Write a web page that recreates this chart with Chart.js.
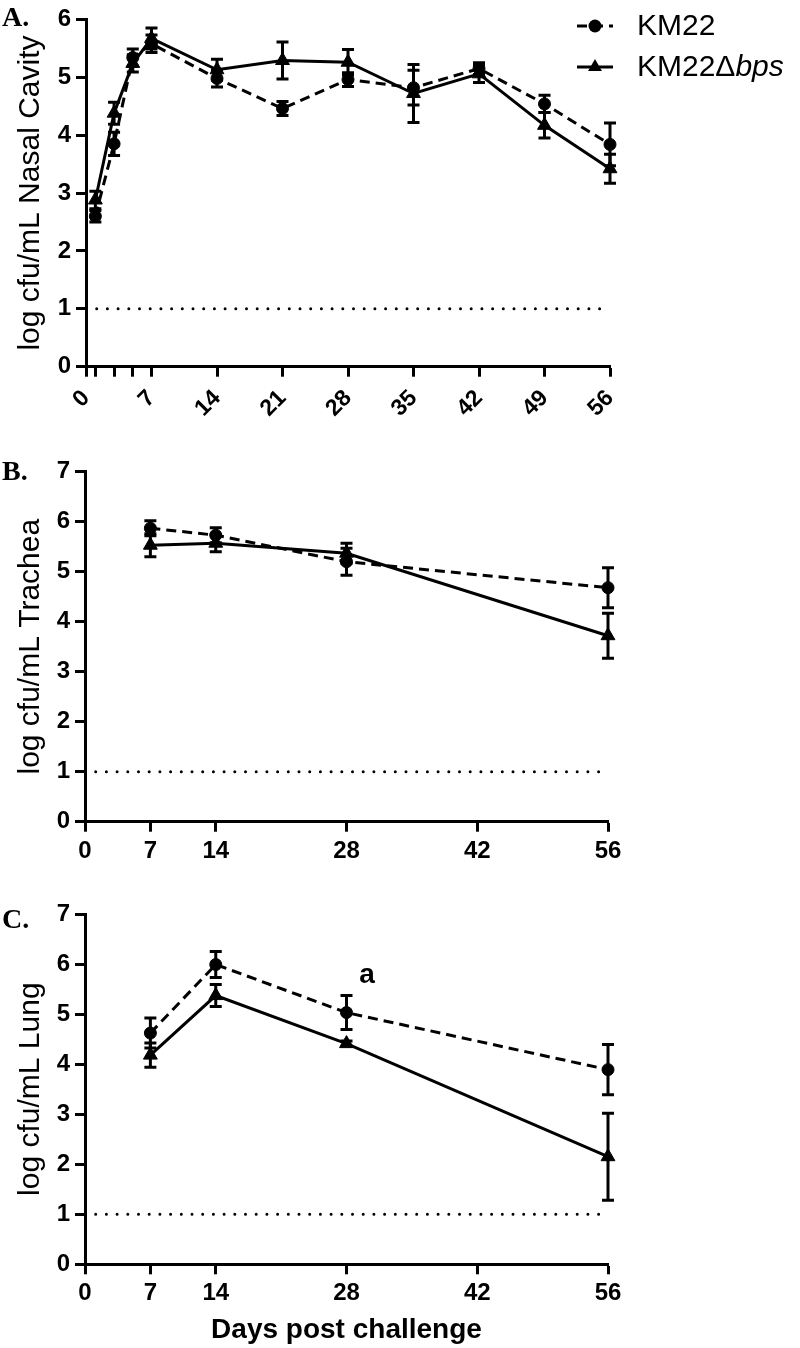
<!DOCTYPE html>
<html>
<head>
<meta charset="utf-8">
<script src="https://cdn.jsdelivr.net/npm/chart.js@4.4.0/dist/chart.umd.min.js"></script>
<style>
  html, body { margin: 0; padding: 0; background: #fff; }
  body { width: 800px; height: 1348px; position: relative; overflow: hidden; }
  canvas { position: absolute; left: 0; }
</style>
</head>
<body>
<canvas id="chartA" width="800" height="440" style="top:0px"></canvas>
<canvas id="chartB" width="800" height="440" style="top:440px"></canvas>
<canvas id="chartC" width="800" height="468" style="top:880px"></canvas>
<script>
// strains
const strainNames = ['KM22', 'KM22\u0394bps'];

// A. nasal cavity
const nasalDays = [1, 3, 5, 7, 14, 21, 28, 35, 42, 49, 56];
const nasalKM22 = [2.6, 3.85, 5.34, 5.58, 4.98, 4.46, 4.96, 4.82, 5.15, 4.54, 3.84];
const nasalKM22Err = [0.1, 0.2, 0.15, 0.15, 0.15, 0.12, 0.12, 0.3, 0.1, 0.15, 0.37];
const nasalBps = [2.88, 4.38, 5.24, 5.67, 5.13, 5.29, 5.26, 4.72, 5.06, 4.17, 3.42];
const nasalBpsErr = [0.15, 0.19, 0.15, 0.18, 0.18, 0.32, 0.22, 0.5, 0.15, 0.22, 0.25];
const nasalTicks = [0, 1, 3, 5, 7, 14, 21, 28, 35, 42, 49, 56];

// B. trachea / C. lung
const organDays = [7, 14, 28, 56];
const tracheaKM22 = [5.87, 5.73, 5.2, 4.68];
const tracheaKM22Err = [0.15, 0.15, 0.27, 0.4];
const tracheaBps = [5.53, 5.57, 5.37, 3.72];
const tracheaBpsErr = [0.23, 0.17, 0.2, 0.45];
const lungKM22 = [4.62, 5.99, 5.03, 3.89];
const lungKM22Err = [0.3, 0.26, 0.34, 0.5];
const lungBps = [4.18, 5.37, 4.41, 2.15];
const lungBpsErr = [0.24, 0.22, 0.05, 0.87];
const organTicks = [0, 7, 14, 28, 42, 56];

// x axis labels
const labelDays = [0, 7, 14, 21, 28, 35, 42, 49, 56];

// detection limit
const lodDays = [0, 56];
const lodValues = [1, 1];

// significance mark in C
const sigDays = [30.2];
const sigValues = [5.63];
const sigTexts = ['a'];

const SANS = '"Liberation Sans", Arial, sans-serif';

const toPoints = (xs, ys) => xs.map((x, i) => ({ x: x, y: ys[i] }));

const errorBars = {
  id: 'errorBars',
  afterDatasetsDraw(chart) {
    const ctx = chart.ctx;
    const yScale = chart.scales.y;
    chart.data.datasets.forEach((ds, i) => {
      if (!ds.errors) return;
      const meta = chart.getDatasetMeta(i);
      ctx.save();
      ctx.strokeStyle = '#000';
      ctx.lineWidth = 3;
      meta.data.forEach((pt, j) => {
        const v = ds.data[j].y;
        const e = ds.errors[j];
        const top = yScale.getPixelForValue(v + e);
        const bot = yScale.getPixelForValue(v - e);
        ctx.beginPath();
        ctx.moveTo(pt.x, top);
        ctx.lineTo(pt.x, bot);
        ctx.moveTo(pt.x - 6, top);
        ctx.lineTo(pt.x + 6, top);
        ctx.moveTo(pt.x - 6, bot);
        ctx.lineTo(pt.x + 6, bot);
        ctx.stroke();
      });
      ctx.restore();
    });
  }
};

const panelLabel = {
  id: 'panelLabel',
  afterDraw(chart, args, opts) {
    if (!opts.text) return;
    const ctx = chart.ctx;
    ctx.save();
    ctx.fillStyle = '#000';
    ctx.font = 'bold 28px "Liberation Serif", "Times New Roman", serif';
    ctx.textBaseline = 'alphabetic';
    ctx.fillText(opts.text, opts.x, opts.y);
    ctx.restore();
  }
};

const sigMarks = {
  id: 'sigMarks',
  afterDraw(chart, args, opts) {
    if (!opts.show) return;
    const ctx = chart.ctx;
    ctx.save();
    ctx.fillStyle = '#000';
    ctx.font = 'bold 28px ' + SANS;
    ctx.textAlign = 'center';
    ctx.textBaseline = 'alphabetic';
    sigDays.forEach((d, i) => {
      ctx.fillText(sigTexts[i], chart.scales.x.getPixelForValue(d), chart.scales.y.getPixelForValue(sigValues[i]));
    });
    ctx.restore();
  }
};

// legend with italic gene name
const sideLegend = {
  id: 'sideLegend',
  afterDraw(chart, args, opts) {
    if (!opts.show) return;
    const ctx = chart.ctx;
    ctx.save();
    [0, 1].forEach((i) => {
      const ds = chart.data.datasets[i];
      const y = opts.rows[i];
      ctx.strokeStyle = '#000';
      ctx.lineWidth = 3;
      ctx.setLineDash(ds.borderDash || []);
      ctx.beginPath();
      ctx.moveTo(opts.x0, y);
      ctx.lineTo(opts.x0 + 36, y);
      ctx.stroke();
      ctx.setLineDash([]);
      ctx.fillStyle = '#000';
      ctx.beginPath();
      const cx = opts.x0 + 18;
      if (ds.pointStyle === 'triangle') {
        const r = ds.pointRadius;
        ctx.moveTo(cx, y - r);
        ctx.lineTo(cx + r * 0.866, y + r * 0.5);
        ctx.lineTo(cx - r * 0.866, y + r * 0.5);
        ctx.closePath();
      } else {
        ctx.arc(cx, y, ds.pointRadius + 0.5, 0, Math.PI * 2);
      }
      ctx.fill();
      const name = ds.label;
      const italicPart = name.endsWith('bps') ? 'bps' : '';
      const plainPart = name.slice(0, name.length - italicPart.length);
      ctx.textBaseline = 'middle';
      ctx.font = '30px ' + SANS;
      ctx.fillText(plainPart, opts.textX, y + 1);
      if (italicPart) {
        const w = ctx.measureText(plainPart).width;
        ctx.font = 'italic 30px ' + SANS;
        ctx.fillText(italicPart, opts.textX + w, y + 1);
      }
    });
    ctx.restore();
  }
};

function panelConfig(p) {
  const lineBase = { borderColor: '#000', backgroundColor: '#000', borderWidth: 3, tension: 0, clip: false, pointBorderColor: '#000', pointBorderWidth: 1 };
  return {
    type: 'line',
    data: {
      datasets: [
        Object.assign({}, lineBase, {
          label: strainNames[0], data: toPoints(p.days, p.km22), errors: p.km22Err,
          borderDash: [10, 6], pointStyle: 'circle', pointRadius: 6, pointHoverRadius: 6
        }),
        Object.assign({}, lineBase, {
          label: strainNames[1], data: toPoints(p.days, p.bps), errors: p.bpsErr,
          pointStyle: 'triangle', pointRadius: 8, pointHoverRadius: 8
        }),
        Object.assign({}, lineBase, {
          label: 'LOD', data: toPoints(lodDays, lodValues),
          borderDash: [0, 10.7], borderCapStyle: 'round', pointRadius: 0, pointHoverRadius: 0
        })
      ]
    },
    options: {
      responsive: false,
      animation: false,
      events: [],
      layout: { padding: { top: p.padTop, right: 800 - p.right, bottom: 0, left: 0 } },
      plugins: {
        legend: { display: false },
        tooltip: { enabled: false },
        panelLabel: { text: p.letter, x: 2, y: p.letterY },
        sideLegend: { show: !!p.legend, x0: 577, textX: 637, rows: [26, 67] },
        sigMarks: { show: !!p.sig }
      },
      scales: {
        x: {
          type: 'linear', min: 0, max: 56,
          afterBuildTicks: (axis) => { axis.ticks = p.ticks.map((v) => ({ value: v })); },
          afterFit: (s) => { s.height = p.xHeight; },
          ticks: {
            autoSkip: false, minRotation: p.rot, maxRotation: p.rot, padding: p.rot ? 8 : 5, color: '#000',
            font: { family: SANS, size: p.rot ? 23 : 24, weight: 'bold' },
            callback: (v) => (labelDays.includes(v) ? String(v) : '')
          },
          grid: { display: true, drawOnChartArea: false, tickLength: 10, tickWidth: 3, tickColor: '#000' },
          border: { display: true, color: '#000', width: 3 },
          title: {
            display: !!p.xTitle, text: p.xTitle || '', color: '#000',
            font: { family: SANS, size: 28, weight: 'bold' }, padding: { top: 0, bottom: 1 }
          }
        },
        y: {
          min: 0, max: p.yMax,
          afterFit: (s) => { s.width = p.left; },
          ticks: { stepSize: 1, padding: 5, color: '#000', font: { family: SANS, size: 24, weight: 'bold' } },
          grid: { display: true, drawOnChartArea: false, tickLength: 10, tickWidth: 3, tickColor: '#000' },
          border: { display: true, color: '#000', width: 3 },
          title: {
            display: true, text: p.yTitle, color: '#000',
            font: { family: SANS, size: 30 }, padding: { top: 13, bottom: 0 }
          }
        }
      }
    },
    plugins: [errorBars, panelLabel, sideLegend, sigMarks]
  };
}

new Chart(document.getElementById('chartA'), panelConfig({
  days: nasalDays, km22: nasalKM22, km22Err: nasalKM22Err, bps: nasalBps, bpsErr: nasalBpsErr,
  ticks: nasalTicks, rot: 45, yMax: 6, yTitle: 'log cfu/mL Nasal Cavity',
  padTop: 19, left: 86, right: 610, xHeight: 73.3, letter: 'A.', letterY: 26, legend: true
}));

new Chart(document.getElementById('chartB'), panelConfig({
  days: organDays, km22: tracheaKM22, km22Err: tracheaKM22Err, bps: tracheaBps, bpsErr: tracheaBpsErr,
  ticks: organTicks, rot: 0, yMax: 7, yTitle: 'log cfu/mL Trachea',
  padTop: 31.7, left: 85, right: 608, xHeight: 58.3, letter: 'B.', letterY: 40
}));

new Chart(document.getElementById('chartC'), panelConfig({
  days: organDays, km22: lungKM22, km22Err: lungKM22Err, bps: lungBps, bpsErr: lungBpsErr,
  ticks: organTicks, rot: 0, yMax: 7, yTitle: 'log cfu/mL Lung',
  padTop: 34, left: 85, right: 608, xHeight: 83.7, letter: 'C.', letterY: 48,
  xTitle: 'Days post challenge', sig: true
}));
</script>
</body>
</html>
